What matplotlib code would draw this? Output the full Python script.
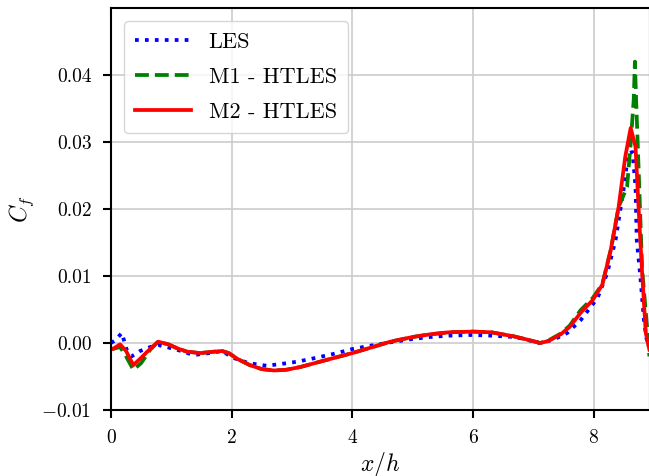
"""Coeficient de fricció Cf - comparació LES / HTLES"""

import matplotlib
matplotlib.use("Agg")
import matplotlib.pyplot as plt

plt.rcParams["font.family"] = "serif"
plt.rcParams["font.serif"] = ["cmr10"]
plt.rcParams["mathtext.fontset"] = "cm"
plt.rcParams["axes.formatter.use_mathtext"] = True

# Dades llegides de la figura
x_les = [0.0, 0.07, 0.18, 0.26, 0.34, 0.48, 0.65, 0.78, 0.92, 1.09, 1.37, 1.64, 1.84,
         2.02, 2.28, 2.58, 2.92, 3.08, 3.35, 3.7, 4.0, 4.3, 4.63, 5.0, 5.29, 5.6,
         5.99, 6.3, 6.67, 6.85, 7.0, 7.11, 7.33, 7.56, 7.78, 8.06, 8.22, 8.36, 8.49,
         8.57, 8.64, 8.69, 8.71, 8.77, 8.83, 8.87, 8.92]
cf_les = [0.0, 0.0004, 0.0015, -0.001, -0.002, -0.0012, -0.0006, -0.0003, -0.0006,
          -0.001, -0.0018, -0.0015, -0.0012, -0.0022, -0.003, -0.0034, -0.003, -0.0028,
          -0.0023, -0.0016, -0.0009, -0.0004, 0.0001, 0.0006, 0.0009, 0.0011, 0.0012,
          0.0011, 0.0009, 0.0006, 0.0002, 0.0, 0.0005, 0.0015, 0.0034, 0.0067, 0.0104,
          0.0154, 0.0228, 0.0283, 0.0285, 0.0233, 0.0154, 0.0099, 0.0034, 0.0007,
          -0.0005]

x_m1 = [0.0, 0.03, 0.15, 0.25, 0.37, 0.5, 0.65, 0.78, 0.95, 1.1, 1.26, 1.48, 1.7,
        1.84, 1.95, 2.1, 2.3, 2.5, 2.7, 2.9, 3.13, 3.5, 4.0, 4.3, 4.63, 5.0, 5.29,
        5.6, 5.99, 6.3, 6.67, 6.9, 7.11, 7.25, 7.45, 7.6, 7.78, 7.98, 8.14, 8.28,
        8.41, 8.55, 8.61, 8.66, 8.68, 8.7, 8.74, 8.8, 8.89, 8.92]
cf_m1 = [-0.0008, -0.0009, -0.0006, -0.002, -0.004, -0.003, -0.001, 0.0002, -0.0002,
         -0.0008, -0.0013, -0.0015, -0.0013, -0.0012, -0.0015, -0.0024, -0.0033,
         -0.0039, -0.0041, -0.004, -0.0036, -0.0027, -0.0015, -0.0007, 0.0002, 0.0009,
         0.0013, 0.0016, 0.0017, 0.0016, 0.001, 0.0005, 0.0, 0.0004, 0.0014, 0.0026,
         0.0049, 0.0067, 0.0088, 0.0139, 0.0203, 0.0233, 0.0298, 0.0363, 0.042, 0.0363,
         0.0263, 0.011, 0.0015, -0.002]

x_m2 = [0.0, 0.03, 0.15, 0.25, 0.37, 0.5, 0.6, 0.78, 0.95, 1.1, 1.26, 1.48, 1.7,
        1.84, 1.95, 2.1, 2.3, 2.5, 2.7, 2.9, 3.13, 3.5, 4.0, 4.3, 4.63, 5.0, 5.29,
        5.6, 5.99, 6.3, 6.67, 6.9, 7.11, 7.25, 7.45, 7.6, 7.78, 7.98, 8.14, 8.28,
        8.41, 8.52, 8.61, 8.69, 8.74, 8.8, 8.86, 8.92]
cf_m2 = [-0.0008, -0.0009, -0.0002, -0.0012, -0.0033, -0.0022, -0.0013, 0.0002,
         -0.0002, -0.0008, -0.0013, -0.0015, -0.0013, -0.0012, -0.0015, -0.0024,
         -0.0033, -0.0039, -0.0041, -0.004, -0.0036, -0.0027, -0.0015, -0.0007, 0.0002,
         0.0009, 0.0013, 0.0016, 0.0017, 0.0016, 0.001, 0.0005, 0.0, 0.0003, 0.0013,
         0.0024, 0.0045, 0.0064, 0.0087, 0.0139, 0.0203, 0.0278, 0.0321, 0.0293,
         0.0203, 0.0104, 0.0015, -0.001]

# Creació de la figura
fig = plt.figure(figsize=(6.49, 4.76), dpi=100)
ax = fig.add_axes([111 / 649, 66 / 476, 539 / 649, 402 / 476])

ax.plot(x_les, cf_les, color="blue", linestyle=":", linewidth=2.7, label="LES")
ax.plot(x_m1, cf_m1, color="green", linestyle="--", linewidth=2.7, label="M1 - HTLES")
ax.plot(x_m2, cf_m2, color="red", linestyle="-", linewidth=2.7, label="M2 - HTLES")

ax.set_xlim(0, 8.93)
ax.set_ylim(-0.01, 0.05)
ax.set_xticks([0, 2, 4, 6, 8])
ax.set_yticks([-0.01, 0.0, 0.01, 0.02, 0.03, 0.04])
ax.set_yticklabels(["$-0.01$", "0.00", "0.01", "0.02", "0.03", "0.04"])

ax.set_xlabel("$x/h$", fontsize=17, labelpad=2)
ax.set_ylabel("$C_f$", fontsize=17, labelpad=4)

ax.tick_params(labelsize=14, length=6, width=1.5, pad=8)
for sp in ax.spines.values():
    sp.set_linewidth(1.5)
ax.grid(True, color="#cccccc", linewidth=1.2)
ax.set_axisbelow(True)

ax.legend(loc="upper left", fontsize=16, handlelength=2.5, framealpha=0.8,
          borderaxespad=0.6, labelspacing=0.7, borderpad=0.5)

plt.savefig("out.png", dpi=100)
plt.close(fig)
